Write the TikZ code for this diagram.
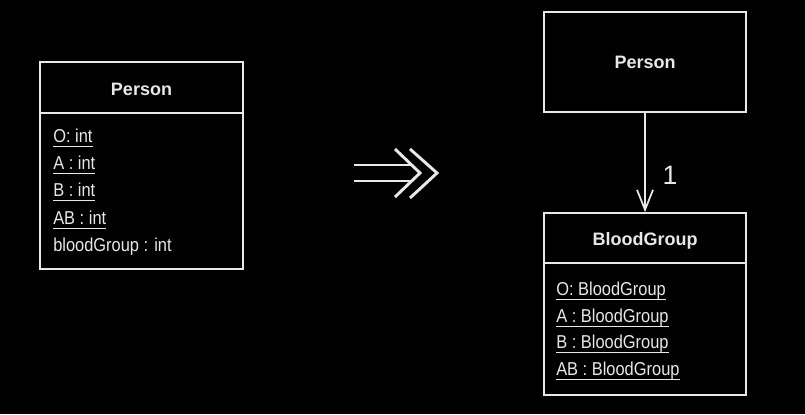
\documentclass[tikz,border=0pt]{standalone}
\usepackage{fontspec}
\setmainfont{Liberation Sans}
\newfontfamily\attrfont{Liberation Sans}[FakeStretch=0.88]
\usetikzlibrary{arrows.meta}

\definecolor{fg}{RGB}{232,232,232}
\newcommand{\ulattr}[1]{\setbox0\hbox{#1}\rlap{\rule[-3.9pt]{\wd0}{0.9pt}}\box0}

\tikzset{
  umlbox/.style={draw=fg, line width=1.3pt, inner sep=0pt, text=fg,
    font=\bfseries\fontsize{13.5}{16}\selectfont},
  cname/.style={anchor=base, inner sep=0pt, text=fg,
    font=\bfseries\fontsize{13.5}{16}\selectfont},
  attr/.style={anchor=base west, inner sep=0pt, text=fg,
    font=\attrfont\fontsize{14}{16}\selectfont},
  sep/.style={draw=fg, line width=1.3pt},
}

\begin{document}
\begin{tikzpicture}[x=0.75pt, y=-0.75pt]

\fill[black] (0,0) rectangle (805,414);

% left class
\node [umlbox, minimum width=152.25pt, minimum height=155.25pt] (lperson) at (141.5,165.5) {};
\node [cname] (lname) at (141.5,95) {Person};
\draw [sep] (lperson.west |- 0,113) -- (lperson.east |- 0,113);
\node [attr] (lo) at (53,142) {\ulattr{O: int}};
\node [attr] (la) at (53,169) {\ulattr{A : int}};
\node [attr] (lb) at (53,196) {\ulattr{B : int}};
\node [attr] (lab) at (53,224) {\ulattr{AB : int}};
\node [attr] (lbg) at (53,251) {bloodGroup : int};

% refactoring arrow
\draw [fg, line width=2.2pt] (354,165) -- (412,165);
\draw [fg, line width=2.2pt] (354,181) -- (412,181);
\draw [fg, line width=2.2pt, line join=miter] (395,149) -- (420,173) -- (395,197);
\draw [fg, line width=2.2pt, line join=miter] (410,149) -- (437,173) -- (410,198);

% right classes
\node [umlbox, minimum width=151.5pt, minimum height=75pt] (rperson) at (645,62) {Person};
\node [umlbox, minimum width=151.5pt, minimum height=136.5pt] (bgroup) at (645,304) {};
\node [cname] (bname) at (645,245) {BloodGroup};
\draw [sep] (bgroup.west |- 0,263) -- (bgroup.east |- 0,263);
\node [attr] (bo) at (556,295) {\ulattr{O: BloodGroup}};
\node [attr] (ba) at (556,322) {\ulattr{A : BloodGroup}};
\node [attr] (bb) at (556,348) {\ulattr{B : BloodGroup}};
\node [attr] (bab) at (556,375) {\ulattr{AB : BloodGroup}};

\draw [sep, -{Straight Barb[length=15pt, width=12pt, line width=1.3pt]}] (rperson) -- (bgroup);
\node [text=fg, font=\fontsize{20}{24}\selectfont] (mult) at (670,175) {1};

\end{tikzpicture}
\end{document}
